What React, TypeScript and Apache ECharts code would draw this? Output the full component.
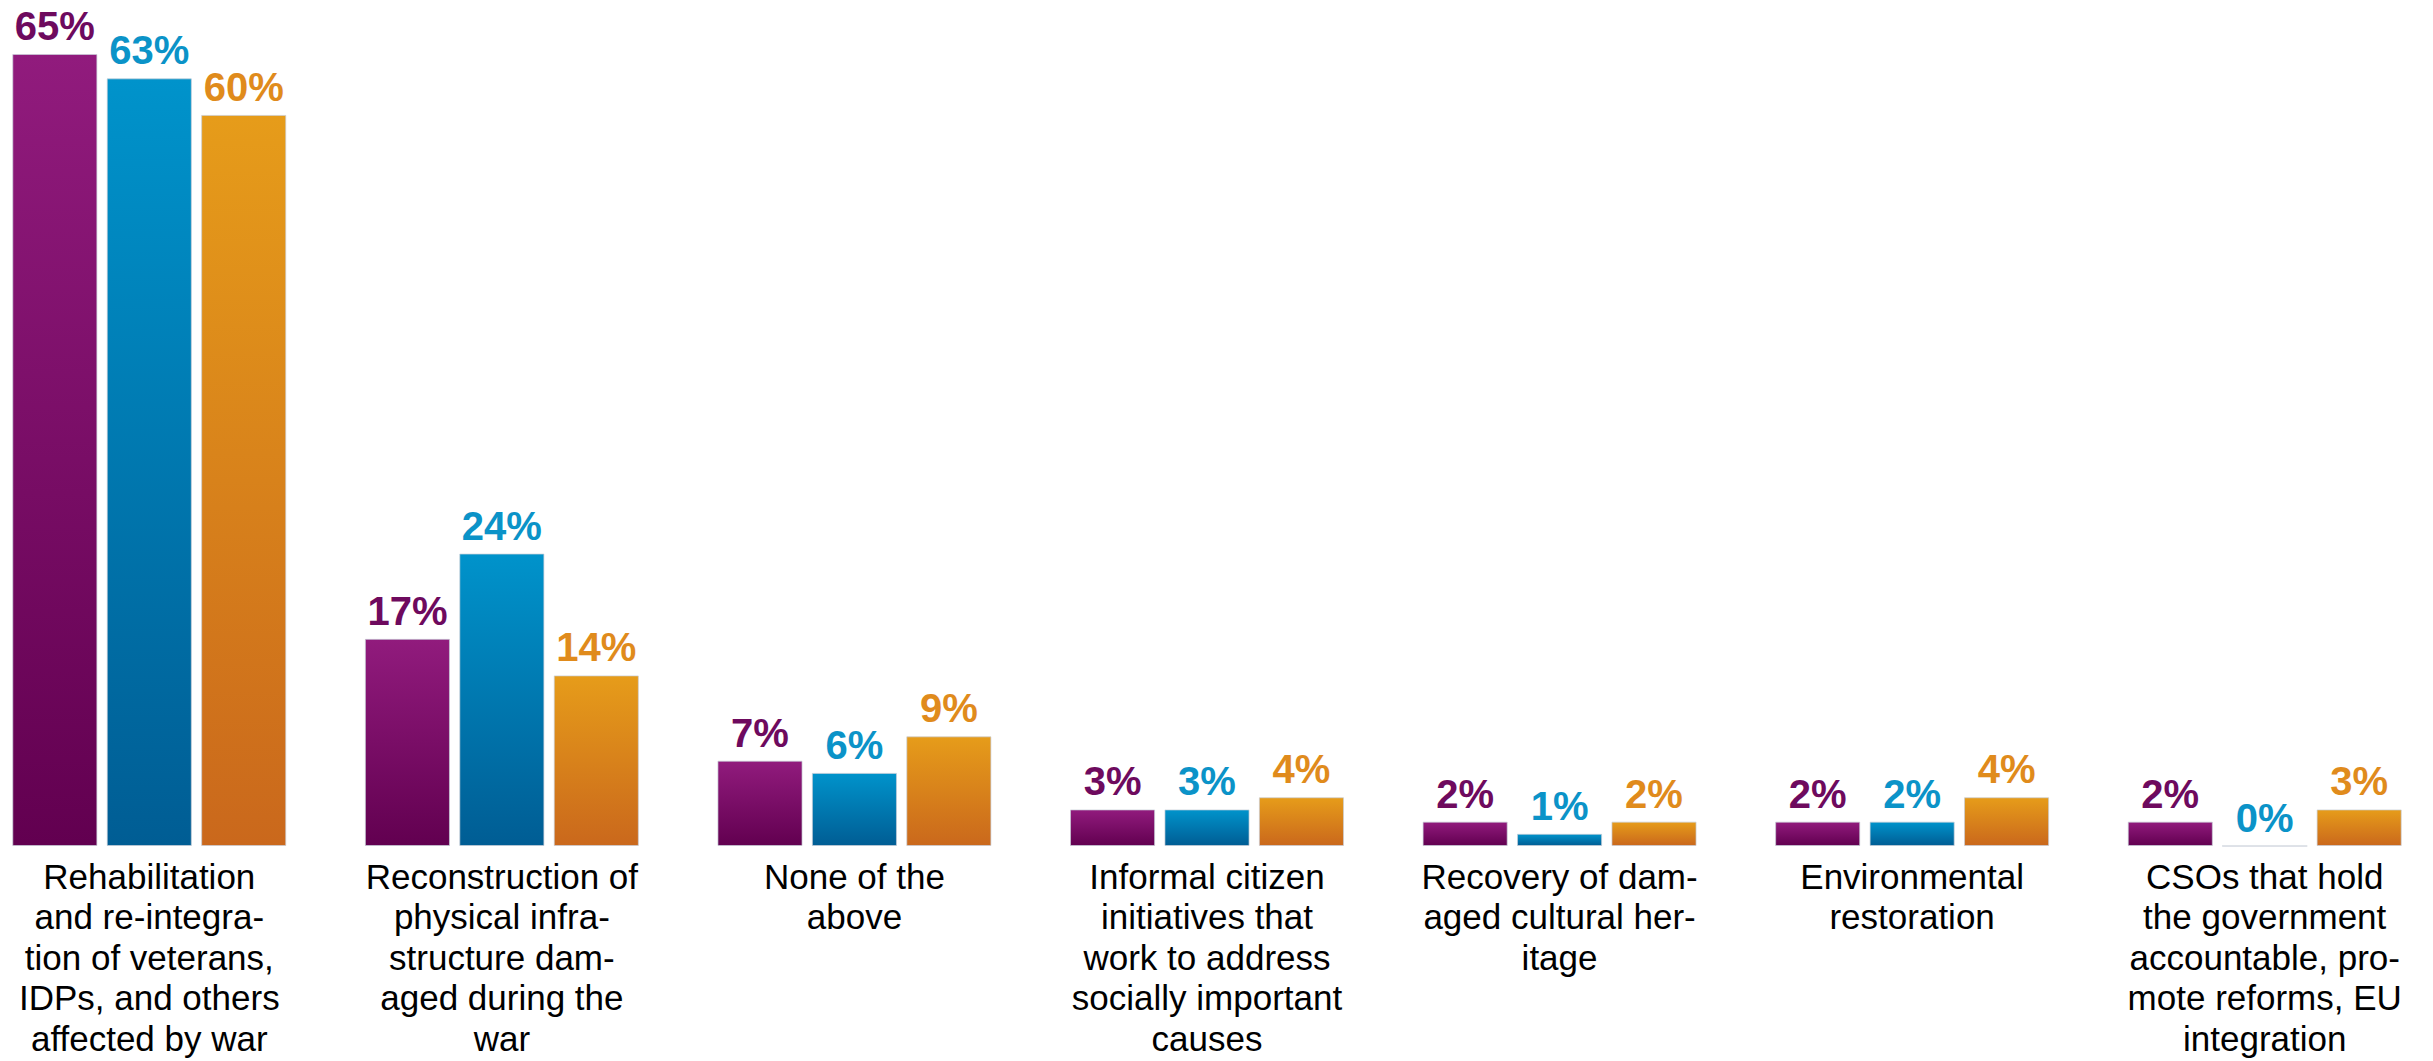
import React, { useEffect, useRef } from "react";
import * as echarts from "echarts";

const categories = [
  "Rehabilitation\nand re-integra-\ntion of veterans,\nIDPs, and others\naffected by war",
  "Reconstruction of\nphysical infra-\nstructure dam-\naged during the\nwar",
  "None of the\nabove",
  "Informal citizen\ninitiatives that\nwork to address\nsocially important\ncauses",
  "Recovery of dam-\naged cultural her-\nitage",
  "Environmental\nrestoration",
  "CSOs that hold\nthe government\naccountable, pro-\nmote reforms, EU\nintegration",
];

const seriesNames = ["Group 1", "Group 2", "Group 3"];
const purpleValues = [65, 17, 7, 3, 2, 2, 2];
const blueValues = [63, 24, 6, 3, 1, 2, 0];
const orangeValues = [60, 14, 9, 4, 2, 4, 3];

const palettes = [
  { top: "#911b7d", bottom: "#620050", label: "#6e0a5e" },
  { top: "#0093cb", bottom: "#005d94", label: "#0b93c8" },
  { top: "#e69c1a", bottom: "#ca681c", label: "#e08b1c" },
];

export default function App() {
  const ref = useRef<HTMLDivElement>(null);

  useEffect(() => {
    if (!ref.current) return;
    const chart = echarts.init(ref.current, undefined, { renderer: "svg" });
    const data = [purpleValues, blueValues, orangeValues];
    chart.setOption({
      animation: false,
      grid: { left: 0, right: 0, top: 54, bottom: 215, containLabel: false },
      xAxis: {
        type: "category",
        data: categories,
        axisLine: { show: false },
        axisTick: { show: false },
        axisLabel: {
          interval: 0,
          margin: 10,
          color: "#000000",
          fontFamily: "Liberation Sans, Arial, sans-serif",
          fontSize: 35,
          lineHeight: 40.5,
          align: "center",
        },
      },
      yAxis: {
        type: "value",
        min: 0,
        max: 65,
        show: false,
        splitLine: { show: false },
      },
      series: data.map((vals, i) => ({
        name: seriesNames[i],
        type: "bar",
        data: vals,
        barCategoryGap: "22.3%",
        barGap: "11%",
        itemStyle: {
          color: new echarts.graphic.LinearGradient(0, 0, 0, 1, [
            { offset: 0, color: palettes[i].top },
            { offset: 1, color: palettes[i].bottom },
          ]),
          borderColor: "rgba(200,205,215,0.7)",
          borderWidth: 1,
        },
        label: {
          show: true,
          position: "top",
          distance: 8,
          formatter: "{c}%",
          color: palettes[i].label,
          fontFamily: "Liberation Sans, Arial, sans-serif",
          fontWeight: "bold",
          fontSize: 40,
        },
      })),
    });
    return () => chart.dispose();
  }, []);

  return (
    <div style={{ position: "fixed", left: 0, top: 0, width: 2433, height: 1061, overflow: "hidden", background: "#fff" }}>
      <div
        ref={ref}
        style={{ position: "absolute", left: -27, top: 0, width: 2468, height: 1061 }}
      />
    </div>
  );
}
